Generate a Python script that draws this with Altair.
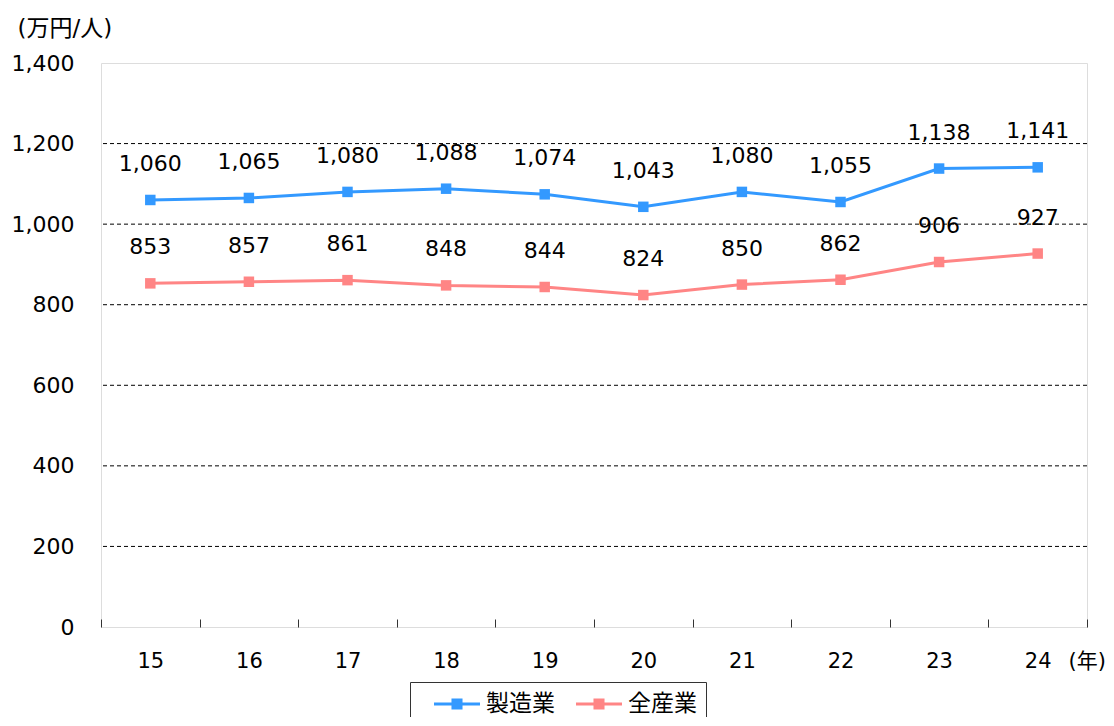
import altair as alt
import pandas as pd

years = ["15", "16", "17", "18", "19", "20", "21", "22", "23", "24"]
manufacturing = [1060, 1065, 1080, 1088, 1074, 1043, 1080, 1055, 1138, 1141]
all_industries = [853, 857, 861, 848, 844, 824, 850, 862, 906, 927]
series_names = ["製造業", "全産業"]
series_colors = ["#3399FF", "#FF8585"]
y_ticks = [0, 200, 400, 600, 800, 1000, 1200, 1400]
grid_values = [200, 400, 600, 800, 1000, 1200]

rows = []
for yr, m, a in zip(years, manufacturing, all_industries):
    rows.append({"year": yr, "series": series_names[0], "value": m})
    rows.append({"year": yr, "series": series_names[1], "value": a})
df = pd.DataFrame(rows)
grid_df = pd.DataFrame({"value": grid_values})

FONT = "DejaVu Sans, Noto Sans CJK JP"
CJK = "Noto Sans CJK JP"
W, H = 986, 564

x_enc = alt.X(
    "year:N",
    sort=years,
    bandPosition=0.5,
    scale=alt.Scale(type="band", paddingInner=0, paddingOuter=0),
    axis=alt.Axis(
        title="(年)",
        titleAngle=0,
        titleX=967,
        titleY=42,
        titleAlign="left",
        titleBaseline="middle",
        titleFont=FONT,
        titleFontSize=21,
        titleFontWeight="normal",
        titleColor="#000000",
        labelAngle=0,
        labelFont=FONT,
        labelFontSize=21,
        labelColor="#000000",
        labelPadding=23,
        domain=False,
        ticks=True,
        tickBand="extent",
        tickSize=8,
        tickColor="#333333",
        tickWidth=1,
        offset=-8,
        grid=False,
    ),
)

y_scale = alt.Scale(domain=[0, 1400], nice=False, zero=True)

y_enc = alt.Y(
    "value:Q",
    scale=y_scale,
    axis=alt.Axis(
        values=y_ticks,
        format=",d",
        title="(万円/人)",
        titleAngle=0,
        titleX=-84,
        titleY=-35,
        titleAlign="left",
        titleBaseline="middle",
        titleFont=FONT,
        titleFontSize=23,
        titleFontWeight="normal",
        titleColor="#000000",
        labelFont=FONT,
        labelFontSize=22,
        labelColor="#000000",
        labelPadding=27,
        domain=False,
        ticks=False,
        grid=False,
    ),
)

# custom legend symbol: a line with a filled square in the middle
legend_path = (
    "M-2,0L2,0"
    "M-0.48,-0.34L0.48,-0.34"
    "M-0.48,-0.17L0.48,-0.17"
    "M-0.48,0L0.48,0"
    "M-0.48,0.17L0.48,0.17"
    "M-0.48,0.34L0.48,0.34"
)

color_scale = alt.Scale(domain=series_names, range=series_colors)

grid = alt.Chart(grid_df).mark_rule(
    color="#000000", strokeDash=[4, 3], strokeWidth=1
).encode(y=alt.Y("value:Q", scale=y_scale))

base = alt.Chart(df).encode(x=x_enc, y=y_enc)

lines = base.mark_line(strokeWidth=3).encode(
    color=alt.Color(
        "series:N",
        scale=color_scale,
        sort=series_names,
        legend=alt.Legend(
            title=None,
            orient="none",
            legendX=309,
            legendY=619,
            direction="horizontal",
            strokeColor="#333333",
            fillColor="#FFFFFF",
            padding=9,
            symbolType=legend_path,
            symbolSize=529,
            symbolOffset=25,
            symbolStrokeWidth=3,
            labelFont=CJK,
            labelFontSize=23,
            labelColor="#000000",
            labelOffset=16,
            columnPadding=6,
        ),
    )
)

points = base.mark_point(shape="square", filled=True, size=110, opacity=1).encode(
    color=alt.Color("series:N", scale=color_scale, legend=None)
)

labels = base.mark_text(dy=-36, fontSize=22, font=FONT, color="#000000").encode(
    text=alt.Text("value:Q", format=",d")
)

chart = (
    alt.layer(grid, lines, points, labels)
    .properties(
        width=W,
        height=H,
        autosize="none",
        padding={"left": 93, "top": 55, "right": 19, "bottom": 90},
    )
    .configure_view(stroke="#333333", strokeWidth=1.5)
    .configure(font=FONT, background="#FFFFFF")
)

chart.save("out.html", embed_options={"renderer": "svg", "actions": False})
